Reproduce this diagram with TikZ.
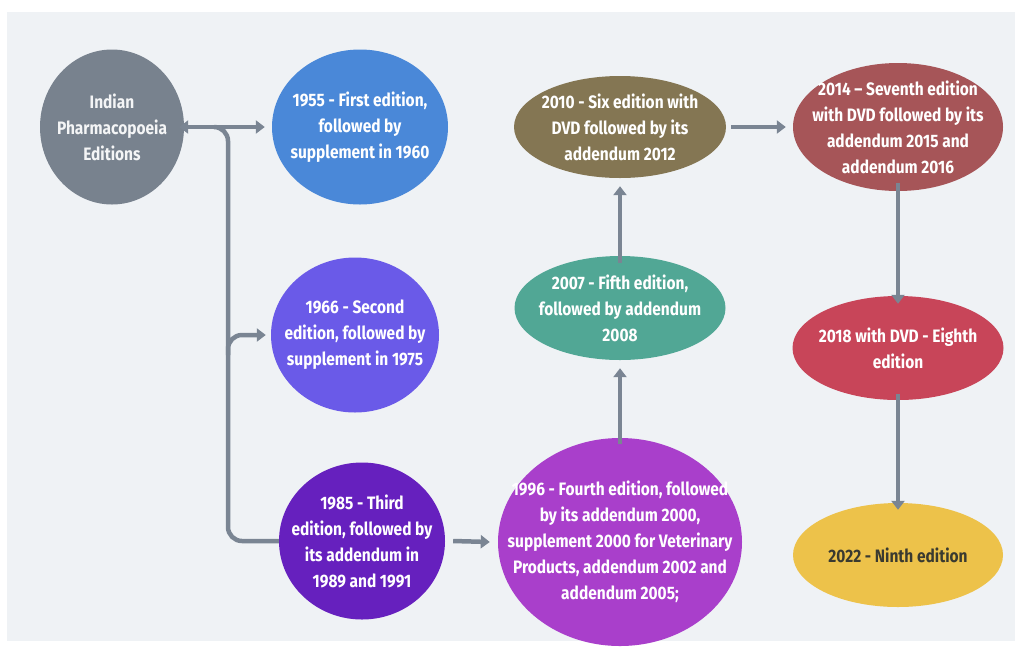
\documentclass[tikz,border=0pt]{standalone}
\usepackage{fontspec}
\setmainfont{Fira Sans}[FakeStretch=0.86]
\usetikzlibrary{shapes.geometric,arrows.meta}
\definecolor{panel}{HTML}{EFF2F5}
\definecolor{cgray}{HTML}{78828E}
\definecolor{cblue}{HTML}{4A88D8}
\definecolor{cviolet}{HTML}{6A5AE8}
\definecolor{cpurple}{HTML}{6620BE}
\definecolor{cmagenta}{HTML}{A93FCB}
\definecolor{cteal}{HTML}{51A795}
\definecolor{colive}{HTML}{847653}
\definecolor{cbrick}{HTML}{A65558}
\definecolor{cred}{HTML}{C84559}
\definecolor{cyellow}{HTML}{EDC24A}
\definecolor{carrow}{HTML}{7A8593}
\definecolor{cdark}{HTML}{3A3A30}
\tikzset{
  bub/.style={ellipse, inner sep=0pt},
  txt/.style={align=center, text=white, inner sep=0pt,
    font=\fontsize{18}{26}\selectfont\bfseries},
  conn/.style={draw=carrow, line width=4.5pt},
  arr/.style={conn, -{Triangle[width=13pt,length=9pt]}},
  darr/.style={conn, {Triangle[width=13pt,length=9pt]}-{Triangle[width=13pt,length=9pt]}},
}
\begin{document}
\begin{tikzpicture}[x=1pt,y=-1pt]
\useasboundingbox (0,0) rectangle (1022,649);
\fill[white] (0,0) rectangle (1022,649);
\fill[panel] (7,12) rectangle (1015,641);

\node[bub, fill=cgray, minimum width=144, minimum height=155,
  label={[txt, text=white!92!cgray]center:{Indian\\Pharmacopoeia\\Editions}}] (ipe) at (112,127) {};
\node[bub, fill=cblue, minimum width=176, minimum height=155,
  label={[txt]center:{1955 - First edition,\\followed by\\supplement in 1960}}] (e1) at (360,127) {};
\node[bub, fill=cviolet, minimum width=168, minimum height=155,
  label={[txt]center:{1966 - Second\\edition, followed by\\supplement in 1975}}] (e2) at (355,335) {};
\node[bub, fill=cpurple, minimum width=166, minimum height=157,
  label={[txt]center:{1985 - Third\\edition, followed by\\its addendum in\\1989 and 1991}}] (e3) at (362,541) {};
\node[bub, fill=cmagenta, minimum width=244, minimum height=208,
  label={[txt]center:{1996 - Fourth edition, followed\\by its addendum 2000,\\supplement 2000 for Veterinary\\Products, addendum 2002 and\\addendum 2005;}}] (e4) at (620,542) {};
\node[bub, fill=cteal, minimum width=211, minimum height=104,
  label={[txt]center:{2007 - Fifth edition,\\followed by addendum\\2008}}] (e5) at (620,308) {};
\node[bub, fill=colive, minimum width=212, minimum height=102,
  label={[txt]center:{2010 - Six edition with\\DVD followed by its\\addendum 2012}}] (e6) at (620,127) {};
\node[bub, fill=cbrick, minimum width=210, minimum height=128,
  label={[txt]center:{2014 -- Seventh edition\\with DVD followed by its\\addendum 2015 and\\addendum 2016}}] (e7) at (898,127) {};
\node[bub, fill=cred, minimum width=211, minimum height=104,
  label={[txt]center:{2018 with DVD - Eighth\\edition}}] (e8) at (898,348) {};
\node[bub, fill=cyellow, minimum width=210, minimum height=104,
  label={[txt, text=cdark]center:{2022 - Ninth edition}}] (e9) at (898,555) {};

\coordinate (top) at (228,127);
\coordinate (mid) at (228,335);
\coordinate (bot) at (228,541);

\draw[darr] ([xshift=-5pt]ipe.east) -- ([xshift=-7pt]e1.west);
\draw[conn, rounded corners=14pt] ([xshift=-14pt]top) -- (top) -- (bot) -- (e3.west);
\draw[arr, rounded corners=14pt] ([yshift=-20pt]mid) -- (mid) -- ([xshift=-5pt]e2.west);
\draw[arr] ([xshift=8pt]e3.east) -- ([xshift=-8pt]e4.west);
\draw[arr] ([yshift=-6pt]e4.north) -- ([yshift=-8pt]e5.south);
\draw[arr] ([yshift=-7pt]e5.north) -- ([yshift=-8pt]e6.south);
\draw[arr] ([xshift=5pt]e6.east) -- ([xshift=-7pt]e7.west);
\draw[arr] ([yshift=8pt]e7.south) -- ([yshift=-8pt]e8.north);
\draw[arr] ([yshift=6pt]e8.south) -- ([yshift=-7pt]e9.north);
\end{tikzpicture}
\end{document}
